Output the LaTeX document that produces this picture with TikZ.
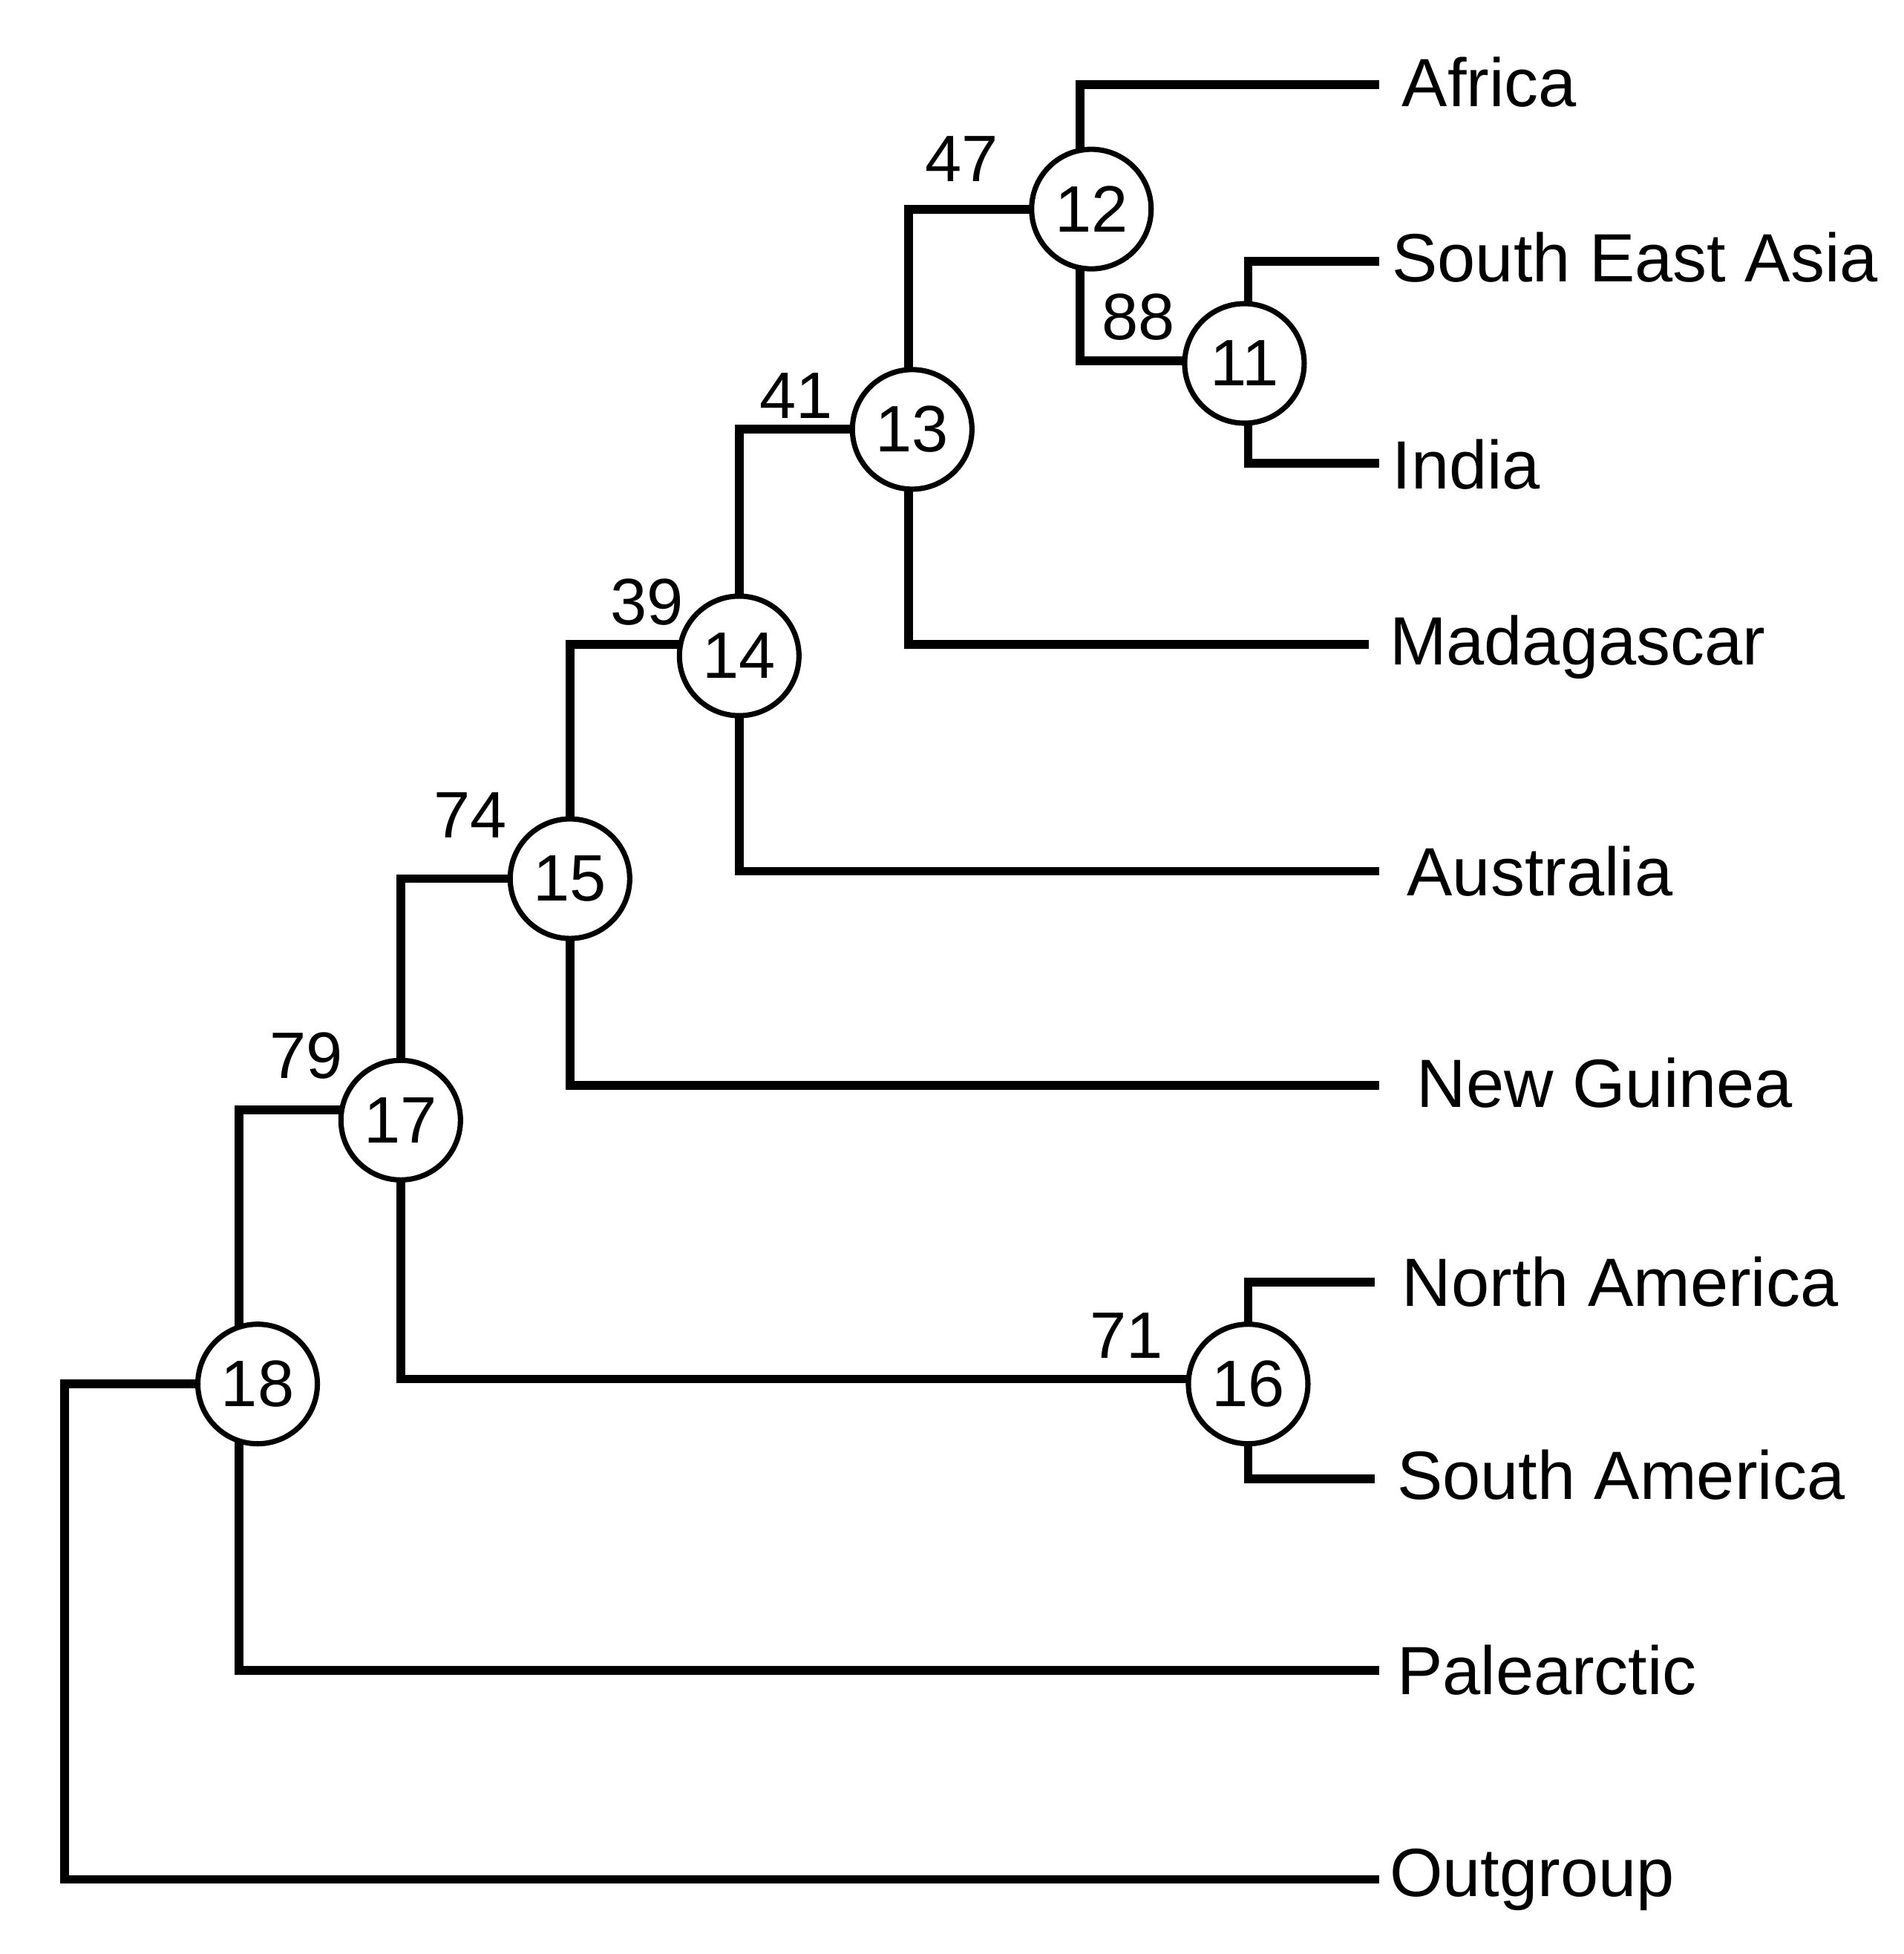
\documentclass[tikz,border=0pt]{standalone}
\usepackage{fontspec}
\setmainfont{Liberation Sans}
\begin{document}
\begin{tikzpicture}[x=0.01cm,y=-0.01cm,
  br/.style={line width=2pt},
  nd/.style={circle,draw,line width=1.2pt,fill=white,minimum size=0.96cm,inner sep=0pt,font=\fontsize{15}{15}\selectfont},
  tip/.style={anchor=west,inner sep=0pt,font=\fontsize{15.6}{15.6}\selectfont},
  bs/.style={font=\fontsize{15}{15}\selectfont,inner sep=0pt}]
\useasboundingbox[fill=white] (0,0) rectangle (1530,1570);
% tips
\coordinate (tA) at (1108,68);
\coordinate (tS) at (1108,210);
\coordinate (tI) at (1108,372);
\coordinate (tM) at (1100,518);
\coordinate (tAu) at (1108,700);
\coordinate (tN) at (1108,872);
\coordinate (tNA) at (1105,1030);
\coordinate (tSA) at (1105,1188);
\coordinate (tP) at (1108,1342);
\coordinate (tO) at (1108,1510);
% branches
\draw[br] (tA) -- (868,68) -- (868,290) -- (1000,290);
\draw[br] (tS) -- (1003,210) -- (1003,372) -- (tI);
\draw[br] (877,168) -- (730,168) -- (730,518) -- (tM);
\draw[br] (733,345) -- (594,345) -- (594,700) -- (tAu);
\draw[br] (594,518) -- (458,518) -- (458,872) -- (tN);
\draw[br] (458,706) -- (322,706) -- (322,1108) -- (1003,1108);
\draw[br] (tNA) -- (1003,1030) -- (1003,1188) -- (tSA);
\draw[br] (322,892) -- (192,892) -- (192,1342) -- (tP);
\draw[br] (207,1112) -- (52,1112) -- (52,1510) -- (tO);
% nodes
\node[nd] (n12) at (877,168) {12};
\node[nd] (n11) at (1000,292) {11};
\node[nd] (n13) at (733,345) {13};
\node[nd] (n14) at (594,527) {14};
\node[nd] (n15) at (458,706) {15};
\node[nd] (n17) at (322,900) {17};
\node[nd] (n16) at (1003,1112) {16};
\node[nd] (n18) at (207,1112) {18};
% labels
\node[tip] (lA) at (1126,66) {Africa};
\node[tip] (lS) at (1118,207) {South East Asia};
\node[tip] (lI) at (1118,373) {India};
\node[tip] (lM) at (1116,520) {Madagascar};
\node[tip] (lAu) at (1130,700) {Australia};
\node[tip] (lN) at (1138,870) {New Guinea};
\node[tip] (lNA) at (1126,1030) {North America};
\node[tip] (lSA) at (1122,1185) {South America};
\node[tip] (lP) at (1122,1342) {Palearctic};
\node[tip] (lO) at (1116,1510) {Outgroup};
% bootstrap
\node[bs] (b47) at (773,128) {47};
\node[bs] (b88) at (915,255) {88};
\node[bs] (b41) at (640,318) {41};
\node[bs] (b39) at (520,484) {39};
\node[bs] (b74) at (378,655) {74};
\node[bs] (b79) at (246,848) {79};
\node[bs] (b71) at (905,1073) {71};
\end{tikzpicture}
\end{document}
